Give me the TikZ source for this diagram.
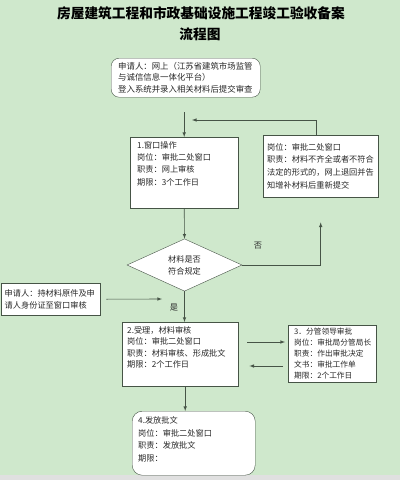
\documentclass[tikz,border=0pt]{standalone}
\usepackage{fontspec}
\setmainfont{Noto Sans CJK SC}
\usetikzlibrary{shapes.geometric}
\definecolor{bg}{RGB}{207,232,204}
\definecolor{linec}{RGB}{70,84,70}
\definecolor{txt}{RGB}{40,40,40}
\begin{document}
\begin{tikzpicture}
[x=1pt,y=-1pt,>=latex,%
  box/.style={draw=linec,fill=white,anchor=north west,align=left,text=txt,
    font=\fontsize{8.2}{12.3}\selectfont},
  decide/.style={diamond,draw=linec,fill=white,minimum width=115pt,
    minimum height=52pt,inner sep=0pt,align=center,text=txt,
    font=\fontsize{8.2}{12}\selectfont},
  heading/.style={text=black,font=\fontsize{13.7}{16}\selectfont\bfseries},
  lbl/.style={text=txt,font=\fontsize{8.2}{10}\selectfont},
  arr/.style={->,draw=linec,line width=0.6pt}]
\useasboundingbox (0,0) rectangle (400,480);
\fill[bg] (0,0) rectangle (400,480);
\fill[black!12] (0,475) rectangle (400,480);
\node[heading] (title) at (201,13) {房屋建筑工程和市政基础设施工程竣工验收备案};
\node[heading] (title2) at (200,34) {流程图};
\node[box,rounded corners=8pt,text width=135pt,inner xsep=7pt,inner ysep=2pt,
  minimum height=39pt,font=\fontsize{8.4}{11.5}\selectfont] (s0) at (111,58)
  {申请人：网上（江苏省建筑市场监管\\与诚信信息一体化平台）\\登入系统并录入相关材料后提交审查};
\node[box,text width=94pt,inner xsep=7pt,inner ysep=4pt,
  text height=7pt,text depth=56pt] (s1) at (130,137)
  {1.窗口操作\\岗位：审批二处窗口\\职责：网上审核\\期限：3个工作日};
\node[box,text width=107pt,inner xsep=4pt,inner ysep=2pt,minimum height=62pt,
  font=\fontsize{8.2}{12.8}\selectfont] (rej) at (263,135)
  {岗位：审批二处窗口\\职责：材料不齐全或者不符合\\法定的形式的，网上退回并告\\知增补材料后重新提交};
\node[decide] (dia) at (184.5,265) {材料是否\\符合规定};
\node[box,text width=92pt,inner xsep=3.5pt,inner ysep=2pt,minimum height=32pt,
  font=\fontsize{8.2}{12.5}\selectfont] (app) at (1,283)
  {申请人：持材料原件及申\\请人身份证至窗口审核};
\node[box,text width=106pt,inner xsep=5pt,inner ysep=4.5pt,
  text height=7pt,text depth=48pt,font=\fontsize{8.2}{11.2}\selectfont] (s2) at (122,322)
  {2.受理，材料审核\\岗位：审批二处窗口\\职责：材料审核、形成批文\\期限：2个工作日};
\node[box,text width=76pt,inner xsep=6pt,inner ysep=2pt,minimum height=57pt,
  font=\fontsize{7.7}{11}\selectfont] (s3) at (288,325)
  {3．分管领导审批\\岗位：审批局分管局长\\职责：作出审批决定\\文书：审批工作单\\期限：2个工作日};
\node[box,rounded corners=10pt,text width=111pt,inner xsep=6pt,inner ysep=5pt,
  text height=7pt,text depth=47pt,font=\fontsize{8.2}{12.8}\selectfont] (s4) at (132,411)
  {4.发放批文\\岗位：审批二处窗口\\职责：发放批文\\期限：};
\node[lbl] (no) at (258,246) {否};
\node[lbl] (yes) at (174,308) {是};
\coordinate (back) at (192,120);
\coordinate (appin) at (162,299);
\coordinate (up) at (0,342);
\coordinate (low) at (0,366);
% connectors
\draw[arr,shorten <=15pt] (s1.north |- s0.south) -- (s1.north);
\draw[arr] ([xshift=-4pt]rej.north) |- (back);
\draw[arr] (s1.south) -- (dia.north);
\draw[arr] (dia.east) -| ([yshift=-25pt]rej.south);
\draw[arr] (dia.south) -- (dia.south |- s2.north);
\draw[arr] ([xshift=6pt]app.east) -- (appin);
\draw[arr,shorten <=9pt,shorten >=3pt] (s2.east |- up) -- (s3.west |- up);
\draw[arr,shorten <=5pt,shorten >=11pt] (s3.west |- low) -- (s2.east |- low);
\draw[arr] ([xshift=5pt]s2.south) -- ([xshift=5pt]s2.south |- s4.north);
\end{tikzpicture}
\end{document}
